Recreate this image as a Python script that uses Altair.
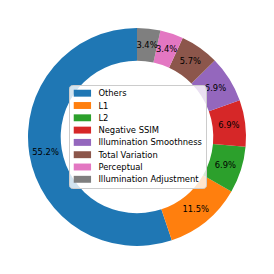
import altair as alt
import pandas as pd

categories = ["Others", "L1", "L2", "Negative SSIM", "Illumination Smoothness",
              "Total Variation", "Perceptual", "Illumination Adjustment"]
counts = [48, 10, 6, 6, 6, 5, 3, 3]
colors = ["#1f77b4", "#ff7f0e", "#2ca02c", "#d62728", "#9467bd",
          "#8c564b", "#e377c2", "#7f7f7f"]

df = pd.DataFrame({"category": categories, "count": counts,
                   "idx": list(range(len(categories)))})

base = alt.Chart(df).transform_joinaggregate(
    total="sum(count)"
).transform_calculate(
    pct="datum.count / datum.total"
)

R = 109
arcs = base.mark_arc(outerRadius=R, innerRadius=R * 0.7).encode(
    theta=alt.Theta("count:Q", stack=True),
    order=alt.Order("idx:Q", sort="descending"),
    color=alt.Color(
        "category:N",
        scale=alt.Scale(domain=categories, range=colors),
        sort=None,
        legend=alt.Legend(
            orient="none", legendX=61, legendY=77, title=None,
            symbolType="M-1,-1H4V1H-1Z", symbolSize=48,
            symbolStrokeWidth=0, symbolOpacity=1,
            labelFontSize=8.4, labelFont="DejaVu Sans", labelColor="black",
            fillColor="rgba(255,255,255,0.8)", strokeColor="#cccccc",
            cornerRadius=3, padding=4, rowPadding=3.3, labelOffset=17,
            zindex=1,
        ),
    ),
)

labels = base.mark_text(radius=R * 0.85, fontSize=8.4, font="DejaVu Sans",
                        color="black", align="center", baseline="middle").encode(
    theta=alt.Theta("count:Q", stack=True),
    order=alt.Order("idx:Q", sort="descending"),
    text=alt.Text("pct:Q", format=".1%"),
)

chart = alt.layer(arcs, labels).properties(
    width=258, height=258, padding=0, autosize=alt.AutoSizeParams(type="none")
).configure_view(stroke=None)

chart.save("out.html", embed_options={"renderer": "svg", "actions": False})
